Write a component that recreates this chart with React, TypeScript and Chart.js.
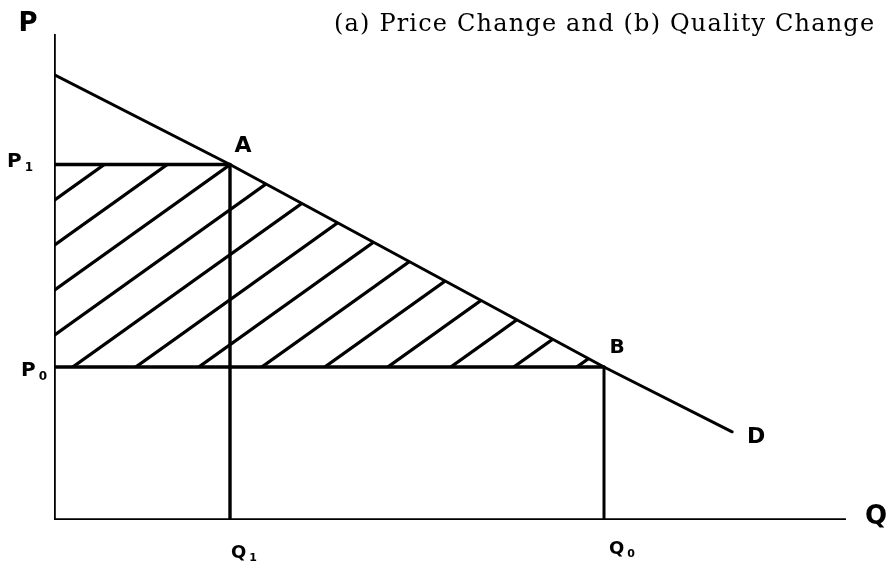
import React, { useEffect, useRef } from "react";
import { Chart, registerables } from "chart.js";

Chart.register(...registerables);

// ---- data ----
const TITLE = "(a) Price Change and (b) Quality Change";
const AXIS_NAMES = ["P", "Q"]; // price axis, quantity axis
const PRICE_LEVELS = [7.9, 3.4]; // P1, P0
const PRICE_NAMES = ["P", "P"];
const PRICE_SUBS = ["1", "0"];
const QUANTITY_LEVELS = [3.2, 10.0]; // Q1, Q0
const QUANTITY_NAMES = ["Q", "Q"];
const QUANTITY_SUBS = ["1", "0"];
const POINT_NAMES = ["A", "B"];
const DEMAND_Q = [0, 3.2, 10.0, 12.33];
const DEMAND_P = [9.9, 7.9, 3.4, 1.96];
const CURVE_NAME = "D";
const X_MAX = 14.4;
const Y_MAX = 10.8;

const W = 886;
const H = 571;

function makeHatch(): CanvasPattern | string {
  const w = 63;
  const h = 45;
  const c = document.createElement("canvas");
  c.width = w;
  c.height = h;
  const g = c.getContext("2d");
  if (!g) return "rgba(0,0,0,0.2)";
  g.strokeStyle = "#000";
  g.lineWidth = 3.2;
  g.lineCap = "butt";
  for (const n of [-1, 0, 1]) {
    g.beginPath();
    g.moveTo(-5, h * (1 + n) + (h / w) * 5);
    g.lineTo(w + 5, h * (1 + n) - h - (h / w) * 5);
    g.stroke();
  }
  const p = g.createPattern(c, "repeat");
  if (!p) return "rgba(0,0,0,0.2)";
  try {
    p.setTransform(new DOMMatrix().translate(0, 14));
  } catch (e) {
    /* ignore */
  }
  return p;
}

const labelsPlugin = {
  id: "diagramLabels",
  afterDraw(chart: any) {
    const ctx: CanvasRenderingContext2D = chart.ctx;
    const xs = chart.scales.x;
    const ys = chart.scales.y;
    const px = (v: number) => xs.getPixelForValue(v);
    const py = (v: number) => ys.getPixelForValue(v);

    const hand = (main: string, sub: string | null, cx: number, cy: number, size = 22) => {
      ctx.save();
      ctx.fillStyle = "#000";
      ctx.textBaseline = "middle";
      ctx.font = `bold ${size}px "DejaVu Sans"`;
      const mw = ctx.measureText(main).width;
      let sw = 0;
      const subSize = Math.round(size * 0.62);
      if (sub) {
        ctx.font = `bold ${subSize}px "DejaVu Sans"`;
        sw = ctx.measureText(sub).width + 3;
      }
      const start = cx - (mw + sw) / 2;
      ctx.textAlign = "left";
      ctx.font = `bold ${size}px "DejaVu Sans"`;
      ctx.fillText(main, start, cy);
      if (sub) {
        ctx.font = `bold ${subSize}px "DejaVu Sans"`;
        ctx.fillText(sub, start + mw + 3, cy + size * 0.3);
      }
      ctx.restore();
    };

    // axis names
    hand(AXIS_NAMES[0], null, px(0) - 26, py(Y_MAX) - 10, 26);
    hand(AXIS_NAMES[1], null, px(X_MAX) + 30, py(0) - 3, 26);

    // price levels
    hand(PRICE_NAMES[0], PRICE_SUBS[0], px(0) - 34, py(PRICE_LEVELS[0]) - 3, 20);
    hand(PRICE_NAMES[1], PRICE_SUBS[1], px(0) - 20, py(PRICE_LEVELS[1]) + 4, 20);

    // quantity levels
    hand(QUANTITY_NAMES[0], QUANTITY_SUBS[0], px(QUANTITY_LEVELS[0]) + 14, py(0) + 33, 18);
    hand(QUANTITY_NAMES[1], QUANTITY_SUBS[1], px(QUANTITY_LEVELS[1]) + 18, py(0) + 29, 18);

    // points
    hand(POINT_NAMES[0], null, px(QUANTITY_LEVELS[0]) + 13, py(PRICE_LEVELS[0]) - 18, 22);
    hand(POINT_NAMES[1], null, px(QUANTITY_LEVELS[1]) + 13, py(PRICE_LEVELS[1]) - 19, 20);

    // curve name
    const last = DEMAND_Q.length - 1;
    hand(CURVE_NAME, null, px(DEMAND_Q[last]) + 24, py(DEMAND_P[last]) + 5, 22);

    // title
    ctx.save();
    ctx.fillStyle = "#000";
    ctx.textAlign = "left";
    ctx.textBaseline = "alphabetic";
    ctx.font = `24px "DejaVu Serif"`;
    const idx = TITLE.lastIndexOf("Change");
    const head = TITLE.slice(0, idx);
    const baseW = ctx.measureText(head).width;
    const target = 441;
    const spacing = (target - baseW) / head.length;
    (ctx as any).letterSpacing = `${spacing.toFixed(2)}px`;
    ctx.fillText(TITLE, 334, 31);
    ctx.restore();
  },
};

export default function App() {
  const ref = useRef<HTMLCanvasElement | null>(null);

  useEffect(() => {
    const canvas = ref.current;
    if (!canvas) return;
    const hatch = makeHatch();
    const line = (data: { x: number; y: number }[], width = 3.4) => ({
      data,
      showLine: true,
      borderColor: "#000",
      borderWidth: width,
      pointRadius: 0,
      fill: false,
      borderCapStyle: "round" as const,
      borderJoinStyle: "round" as const,
    });
    const [P1, P0] = PRICE_LEVELS;
    const [Q1, Q0] = QUANTITY_LEVELS;

    const chart = new Chart(canvas, {
      type: "scatter",
      data: {
        datasets: [
          // hatched region: upper boundary (P1 line then demand from A to B)
          {
            data: [
              { x: 0, y: P1 },
              { x: Q1, y: P1 },
              { x: Q0, y: P0 },
            ],
            showLine: true,
            borderWidth: 0,
            borderColor: "rgba(0,0,0,0)",
            pointRadius: 0,
            backgroundColor: hatch as any,
            fill: 1,
          } as any,
          // lower boundary (P0 line)
          {
            data: [
              { x: 0, y: P0 },
              { x: Q0, y: P0 },
            ],
            showLine: true,
            borderWidth: 0,
            borderColor: "rgba(0,0,0,0)",
            pointRadius: 0,
            fill: false,
          },
          // axes
          line([{ x: 0, y: 0 }, { x: 0, y: Y_MAX }], 3.6),
          line([{ x: 0, y: 0 }, { x: X_MAX, y: 0 }], 3.6),
          // demand curve
          line(DEMAND_Q.map((q, i) => ({ x: q, y: DEMAND_P[i] })), 3),
          // price levels
          line([{ x: 0, y: P1 }, { x: Q1, y: P1 }], 3.4),
          line([{ x: 0, y: P0 }, { x: Q0, y: P0 }], 3.4),
          // quantity levels
          line([{ x: Q1, y: P1 }, { x: Q1, y: 0 }], 3.4),
          line([{ x: Q0, y: P0 }, { x: Q0, y: 0 }], 3),
        ],
      },
      options: {
        animation: false,
        responsive: false,
        maintainAspectRatio: false,
        devicePixelRatio: 1,
        layout: { padding: { left: 54, right: W - 54 - 792, top: 34, bottom: 51 } },
        scales: {
          x: { type: "linear", min: 0, max: X_MAX, display: false },
          y: { type: "linear", min: 0, max: Y_MAX, display: false },
        },
        plugins: {
          legend: { display: false },
          tooltip: { enabled: false },
          title: { display: false },
        },
        events: [],
      },
      plugins: [labelsPlugin],
    });
    return () => chart.destroy();
  }, []);

  return (
    <div style={{ position: "absolute", left: 0, top: 0, width: W, height: H, background: "#fff" }}>
      <canvas ref={ref} width={W} height={H} style={{ display: "block", width: W, height: H }} />
    </div>
  );
}
